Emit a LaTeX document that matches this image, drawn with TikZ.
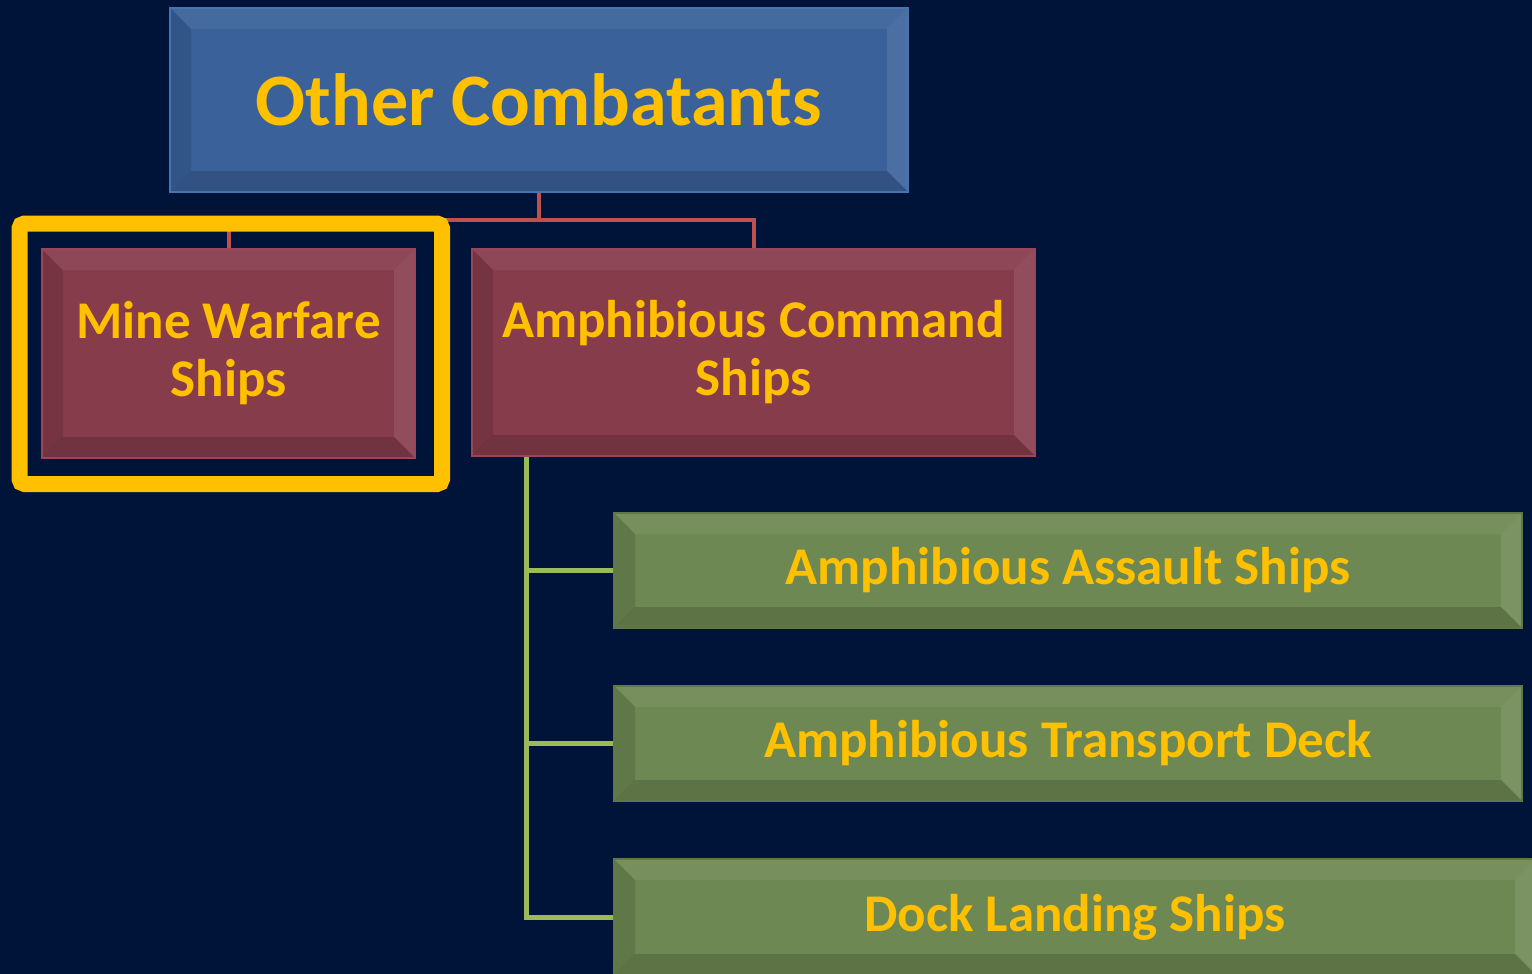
\documentclass[tikz,border=0pt]{standalone}
\usepackage{fontspec}
\setmainfont{Carlito}
\definecolor{bg}{HTML}{00143A}
\definecolor{gold}{HTML}{FFC000}
\definecolor{bluefill}{HTML}{3A619A}
\definecolor{blueedge}{HTML}{4674B0}
\definecolor{redfill}{HTML}{873C4C}
\definecolor{rededge}{HTML}{9A4656}
\definecolor{greenfill}{HTML}{6E8853}
\definecolor{greenedge}{HTML}{5E7848}
\definecolor{redline}{HTML}{C0504D}
\definecolor{greenline}{HTML}{9BBB59}
\tikzset{
  bevel/.style={path picture={
    \coordinate (pnw) at (path picture bounding box.north west);
    \coordinate (pne) at (path picture bounding box.north east);
    \coordinate (psw) at (path picture bounding box.south west);
    \coordinate (pse) at (path picture bounding box.south east);
    \fill[white,opacity=.06] (pnw) -- (pne) -- ([xshift=-#1,yshift=-#1]pne) -- ([xshift=#1,yshift=-#1]pnw) -- cycle;
    \fill[white,opacity=.09] (pne) -- (pse) -- ([xshift=-#1,yshift=#1]pse) -- ([xshift=-#1,yshift=-#1]pne) -- cycle;
    \fill[black,opacity=.12] (pnw) -- (psw) -- ([xshift=#1,yshift=#1]psw) -- ([xshift=#1,yshift=-#1]pnw) -- cycle;
    \fill[black,opacity=.15] (psw) -- (pse) -- ([xshift=-#1,yshift=#1]pse) -- ([xshift=#1,yshift=#1]psw) -- cycle;
  }},
  box/.style={draw, line width=2pt, inner sep=0pt, text=gold, align=center,
    font=\bfseries\fontsize{53}{58}\selectfont, bevel=21pt},
  topbox/.style={box, fill=bluefill, draw=blueedge, font=\bfseries\fontsize{74}{84}\selectfont},
  redbox/.style={box, fill=redfill, draw=rededge},
  greenbox/.style={box, fill=greenfill, draw=greenedge},
  redconn/.style={draw=redline, line width=4pt},
  greenconn/.style={draw=greenline, line width=5pt},
}
\begin{document}
\begin{tikzpicture}[x=1pt,y=-1pt]
\fill[bg] (0,0) rectangle (1532,974);
\useasboundingbox (0,0) rectangle (1532,974);

\node[topbox, minimum width=738pt, minimum height=184pt] (top) at (539,100) {Other Combatants};
\node[redbox, minimum width=373pt, minimum height=209pt] (mine) at (228.5,353.5) {Mine Warfare\\Ships};
\node[redbox, minimum width=563pt, minimum height=207pt] (cmd) at (753.5,352.5) {Amphibious Command\\Ships};
\node[greenbox, minimum width=908pt, minimum height=115pt] (g1) at (1068,570.5) {Amphibious Assault Ships};
\node[greenbox, minimum width=908pt, minimum height=115pt] (g2) at (1068,743.5) {Amphibious Transport Deck};
\node[greenbox, minimum width=922pt, minimum height=116pt] (g3) at (1075,917) {Dock Landing Ships};

\coordinate (j) at (539,220);
\draw[redconn] (top.south) -- (j);
\draw[redconn] (mine.north) |- (j) -| (cmd.north);

\coordinate (gt) at ([xshift=55pt]cmd.south west);
\draw[greenconn] (gt) |- (g1.west);
\draw[greenconn] (gt) |- (g2.west);
\draw[greenconn] (gt) |- (g3.west);

\draw[gold, line width=16pt, rounded corners=5pt] (19.5,223.5) rectangle (442,484);
\end{tikzpicture}
\end{document}
